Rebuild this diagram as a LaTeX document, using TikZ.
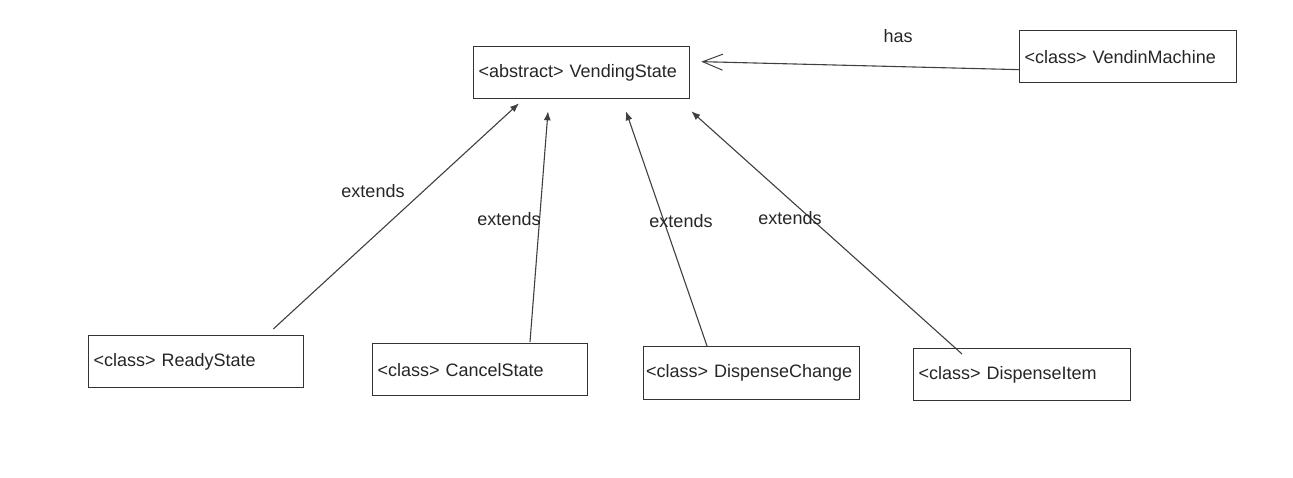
\documentclass[tikz,border=0pt]{standalone}
\usepackage{fontspec}
\setmainfont{Liberation Sans}
\usetikzlibrary{arrows.meta,calc}

\begin{document}
\begin{tikzpicture}[
  x=1pt,y=-1pt,
  font=\fontsize{18}{21}\selectfont,
  classbox/.style={draw=black!80,line width=1.3pt,anchor=north west,inner xsep=5pt,
    text width=#1,align=left,minimum height=52pt,text=black!85},
  classbox/.default=205pt,
  extends/.style={-{Latex[length=9pt,width=7pt]},line width=1.1pt,draw=black!75},
  has/.style={-{Straight Barb[length=20pt,width=16pt,line width=1pt]},line width=1.1pt,draw=black!75},
  lbl/.style={text=black!85,inner sep=1pt}]

  \useasboundingbox[fill=white] (0,0) rectangle (1293,478);

  % Position the nodes at their corners
  \node[classbox=206pt] (VS) at (473,46) {<abstract> VendingState};
  \node[classbox=207pt] (VM) at (1019,30) {<class> VendinMachine};
  \node[classbox] (RS) at (88,335) {<class> ReadyState};
  \node[classbox] (CS) at (372,343) {<class> CancelState};
  \node[classbox=211pt,inner xsep=2.5pt,minimum height=53pt] (DC) at (643,346) {<class> DispenseChange};
  \node[classbox=207pt] (DI) at (913,348) {<class> DispenseItem};

  % Draw the arrows between the nodes and label them.
  \draw[extends] ($(RS.north east)+(-31,-6)$) -- ($(VS.south west)+(46,4)$);
  \draw[extends] ($(CS.north west)+(158,-1)$) -- ($(VS.south west)+(75,12)$);
  \draw[extends] ($(DC.north west)+(64,0)$) -- ($(VS.south west)+(153,12)$);
  \draw[extends] ($(DI.north west)+(49,6)$) -- ($(VS.south east)+(1,12)$);
  \draw[has] ($(VM.west)+(0,13)$) -- ($(VS.east)+(11,-11)$);

  \node[lbl] (E1) at (373,191) {extends};
  \node[lbl] (E2) at (509,219) {extends};
  \node[lbl] (E3) at (681,221) {extends};
  \node[lbl] (E4) at (790,218) {extends};
  \node[lbl] (H) at (898,36) {has};
\end{tikzpicture}
\end{document}
